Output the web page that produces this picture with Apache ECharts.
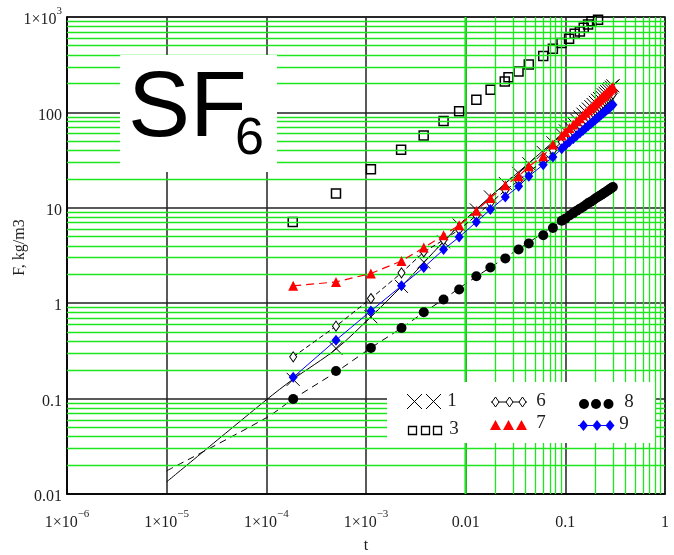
<!DOCTYPE html>
<html><head><meta charset="utf-8">
<script src="https://cdn.jsdelivr.net/npm/echarts@6/dist/echarts.min.js"></script>
<style>html,body{margin:0;padding:0;background:#fff}#c{width:674px;height:555px}</style>
</head><body><div id="c"></div>
<script>
// ---- tick labels ----
const xTickLabels = ['1×10^−6','1×10^−5','1×10^−4','1×10^−3','0.01','0.1','1'];
const yTickLabels = ['0.01','0.1','1','10','100','1×10^3'];
// minor grid multipliers / decades
const minorMult = [2,3,4,5,6,7,8,9];
const xDecades = [1e-6,1e-5,1e-4,1e-3,1e-2,1e-1];
const yDecades = [1e-2,1e-1,1,10,100];

// ---- data: time t ----
const tMain = [1.86e-4,5e-4,1.12e-3,2.27e-3,3.8e-3,6e-3,8.6e-3,1.28e-2,1.77e-2,2.5e-2,3.4e-2,4.3e-2,6e-2,7.5e-2,9.2e-2,
  0.10,0.11,0.12,0.13,0.14,0.15,0.16,0.17,0.18,0.19,0.20,0.21,0.22,0.23,0.24,0.25,0.26,0.27,0.28,0.29,0.30];
// series 1 (crosses)
const F1 = [0.159,0.336,0.72,1.5,2.7,4.4,6.6,9.5,13.0,18.0,23.0,29.0,38.0,48.0,59.0,
  64,70.5,77,83,89.5,96,102,108.5,115,121,127.5,134,140,146.5,153,159,165,171.5,178,184,190];
// series 6 (hollow diamonds)
const F6 = [0.274,0.574,1.12,2.08,3.44,4.6,5.9,8.3,11.2,15.3,19.2,24,30.5,40,49,
  52.4,57.5,62.7,67.9,73.1,78.2,83.3,88.6,93.7,98.9,104,109,114,119.5,124.5,130,135,140,145,150,155];
// series 7 (red triangles)
const F7 = [1.52,1.67,2.05,2.77,3.83,5.15,6.56,9.3,12.7,17.2,21.4,27.2,34.8,46.2,57.4,
  62.4,68.5,74.7,80.8,87.0,93.1,99.2,105.5,111.5,117.7,123.9,129.9,136.1,142.2,148.3,154.5,160.5,166.7,172.8,178.9,185];
// series 8 (black circles)
const F8 = [0.099,0.195,0.34,0.55,0.805,1.094,1.39,1.92,2.37,2.95,3.65,4.22,5.15,6.15,7.3,
  7.7,8.3,8.8,9.3,9.8,10.2,10.7,11.2,11.6,12.0,12.5,12.9,13.3,13.7,14.1,14.5,14.9,15.3,15.7,16.1,16.5];
// series 9 (blue diamonds)
const F9 = [0.167,0.41,0.83,1.52,2.37,3.65,4.94,7.1,9.6,13.0,16.8,21.4,28.3,34.0,41.7,
  45.1,49.1,53.1,57.0,60.9,64.8,68.6,72.4,76.2,79.9,83.6,87.4,91.1,94.8,98.4,102,105.7,109.2,112.9,116.4,120];
// series 3 (hollow squares)
const t3 = [1.84e-4,5e-4,1.12e-3,2.25e-3,3.79e-3,6e-3,8.6e-3,1.28e-2,1.78e-2,2.47e-2,2.69e-2,3.39e-2,4.3e-2,6e-2,7.5e-2,9.16e-2,0.109,0.124,0.14,0.153,0.169,0.183,0.213];
const F3 = [7.1,14.1,25.3,40.7,57.4,81.1,103,136,173,211,234,269,318,389,465,533,592,667,705,771,834,903,935];
// fitted curves
const tFit1 = [1e-5,1e-4,1.86e-4,5e-4,1.12e-3,2.27e-3,1e-2,0.1,0.35];
const FFit1 = [0.0134,0.097,0.16,0.33,0.72,1.5,7.6,64,222];
const tFit8 = [1e-5,1e-4,1.86e-4,5e-4,1.12e-3,2.27e-3,3.8e-3,6e-3,1e-2,3e-2,0.1,0.3];
const FFit8 = [0.0175,0.063,0.099,0.19,0.34,0.55,0.8,1.1,1.6,3.4,7.7,16.5];

const pairs = (xs, ys) => xs.map((x, i) => [x, ys[i]]);
const toRich = s => s.includes('^') ? '{b|' + s.split('^')[0] + '}{s|' + s.split('^')[1] + '}' : '{b|' + s + '}';
const SERIF = '"Liberation Serif","Times New Roman",serif';
const SANS = '"Liberation Sans",Arial,sans-serif';
const LBL = '#1e1e1e';
const GREEN = '#1ee61e';
const rich = {
  b: {fontSize: 16, fontFamily: SERIF, color: LBL, lineHeight: 22, verticalAlign: 'bottom'},
  s: {fontSize: 11, fontFamily: SERIF, color: LBL, lineHeight: 12, verticalAlign: 'top'}
};
const minorX = [], minorY = [];
xDecades.forEach(d => minorMult.forEach(m => minorX.push({xAxis: m * d})));
yDecades.forEach(d => minorMult.forEach(m => minorY.push({yAxis: m * d})));

const crossPath = 'path://M0,0L10,10M10,0L0,10';

// legend decoration helpers
const txt = (x, y, s) => ({type: 'text', z: 101, x: x, y: y, style: {text: s, fontSize: 19, fontFamily: SERIF, fill: LBL, textAlign: 'center', textVerticalAlign: 'middle'}});
const seg = (x1, y1, x2, y2, c, w) => ({type: 'line', z: 101, shape: {x1: x1, y1: y1, x2: x2, y2: y2}, style: {stroke: c, lineWidth: w}});
const poly = (pts, fill, stroke) => ({type: 'polygon', z: 102, shape: {points: pts}, style: {fill: fill, stroke: stroke || null, lineWidth: 1}});
const diamond = (cx, cy, hw, hh) => [[cx, cy - hh], [cx + hw, cy], [cx, cy + hh], [cx - hw, cy]];
const tri = (cx, cy) => [[cx, cy - 5.5], [cx + 5.5, cy + 4.5], [cx - 5.5, cy + 4.5]];

const legendEls = [
  {type: 'rect', z: 100, shape: {x: 387, y: 382, width: 268, height: 61}, style: {fill: '#fff'}},
  seg(407, 394, 422, 409, '#000', 1), seg(422, 394, 407, 409, '#000', 1),
  seg(426, 394, 441, 409, '#000', 1), seg(441, 394, 426, 409, '#000', 1),
  txt(452, 401, '1'),
  {type: 'rect', z: 101, shape: {x: 408.5, y: 426.5, width: 8, height: 8}, style: {fill: '#fff', stroke: '#000', lineWidth: 1.3}},
  {type: 'rect', z: 101, shape: {x: 421.5, y: 426.5, width: 8, height: 8}, style: {fill: '#fff', stroke: '#000', lineWidth: 1.3}},
  {type: 'rect', z: 101, shape: {x: 433.5, y: 426.5, width: 8, height: 8}, style: {fill: '#fff', stroke: '#000', lineWidth: 1.3}},
  txt(454, 429, '3'),
  seg(491, 402, 527, 402, '#000', 1),
  poly(diamond(495.5, 402, 3.5, 5), '#fff', '#000'), poly(diamond(509.5, 402, 3.5, 5), '#fff', '#000'), poly(diamond(522.5, 402, 3.5, 5), '#fff', '#000'),
  txt(541, 401, '6'),
  poly(tri(495.5, 425.5), '#ff0000'), poly(tri(508.5, 425.5), '#ff0000'), poly(tri(521.5, 425.5), '#ff0000'),
  txt(541, 423, '7'),
  {type: 'circle', z: 101, shape: {cx: 584, cy: 404, r: 5}, style: {fill: '#000'}},
  {type: 'circle', z: 101, shape: {cx: 596, cy: 404, r: 5}, style: {fill: '#000'}},
  {type: 'circle', z: 101, shape: {cx: 608.5, cy: 404, r: 5}, style: {fill: '#000'}},
  txt(629, 402, '8'),
  seg(578, 425.5, 614, 425.5, '#0000ff', 1),
  poly(diamond(583.5, 425.5, 4.5, 5.5), '#0000ff'), poly(diamond(597, 425.5, 4.5, 5.5), '#0000ff'), poly(diamond(610, 425.5, 4.5, 5.5), '#0000ff'),
  txt(624, 424, '9')
];

const chart = echarts.init(document.getElementById('c'), null, {renderer: 'canvas'});
chart.setOption({
  animation: false,
  backgroundColor: '#fff',
  grid: {left: 67, right: 9, top: 17, bottom: 61, containLabel: false, outerBoundsMode: 'none',
    show: true, borderColor: '#000', borderWidth: 1.5, backgroundColor: 'transparent'},
  xAxis: {
    type: 'log', logBase: 10, min: 1e-6, max: 1, splitNumber: 6,
    name: 't', nameLocation: 'middle', nameGap: 44, nameMoveOverlap: false,
    nameTextStyle: {fontFamily: SERIF, fontSize: 16, color: LBL},
    axisLine: {show: true, lineStyle: {color: '#000', width: 1.5}},
    axisTick: {show: false},
    splitLine: {show: true, lineStyle: {color: '#222', width: 1.5}},
    axisLabel: {margin: 15, formatter: v => toRich(xTickLabels[Math.round(Math.log10(v)) + 6]), rich: rich, showMinLabel: true, showMaxLabel: true, hideOverlap: false}
  },
  yAxis: {
    type: 'log', logBase: 10, min: 0.01, max: 1000, splitNumber: 5,
    name: 'F, kg/m3', nameLocation: 'middle', nameGap: 39, nameRotate: 90, nameMoveOverlap: false,
    nameTextStyle: {fontFamily: SERIF, fontSize: 16, color: LBL, padding: [0, 0, 0, 16]},
    axisLine: {show: true, lineStyle: {color: '#000', width: 1.5}},
    axisTick: {show: false},
    splitLine: {show: true, lineStyle: {color: '#222', width: 1.5}},
    axisLabel: {margin: 5, formatter: v => toRich(yTickLabels[Math.round(Math.log10(v)) + 2]), rich: rich, hideOverlap: false}
  },
  graphic: [
    {type: 'rect', z: 100, shape: {x: 120, y: 55, width: 157, height: 117}, style: {fill: '#fff'}},
    {type: 'text', z: 101, x: 128, y: 110, style: {text: 'SF', fontSize: 93, fontFamily: SANS, fill: '#000', textAlign: 'left', textVerticalAlign: 'middle'}},
    {type: 'text', z: 101, x: 235, y: 140, style: {text: '6', fontSize: 52, fontFamily: SANS, fill: '#000', textAlign: 'left', textVerticalAlign: 'middle'}}
  ].concat(legendEls),
  series: [
    {type: 'line', name: 'minorgrid', data: [], z: 1, silent: true,
      markLine: {silent: true, symbol: ['none', 'none'], label: {show: false}, animation: false,
        lineStyle: {color: GREEN, type: 'solid', width: 1.3, opacity: 1}, emphasis: {disabled: true},
        data: minorX.concat(minorY)}},
    {type: 'line', name: 'fit1', data: pairs(tFit1, FFit1), showSymbol: false, symbol: 'none', smooth: 0.3, z: 3,
      lineStyle: {color: '#000', width: 1}},
    {type: 'line', name: 'fit8', data: pairs(tFit8, FFit8), showSymbol: false, symbol: 'none', smooth: 0.3, z: 3,
      lineStyle: {color: '#000', width: 1, type: [7, 5]}},
    {type: 'scatter', name: '1', data: pairs(tMain, F1), symbol: crossPath, symbolSize: 13, z: 4,
      itemStyle: {color: 'rgba(0,0,0,0)', borderColor: '#000', borderWidth: 1, opacity: 1}},
    {type: 'scatter', name: '3', data: pairs(t3, F3), symbol: 'rect', symbolSize: 9, z: 4,
      itemStyle: {color: 'rgba(255,255,255,0)', borderColor: '#000', borderWidth: 1.5, opacity: 1}},
    {type: 'line', name: '6', data: pairs(tMain, F6), symbol: 'diamond', symbolSize: [7, 10], showAllSymbol: true, z: 5,
      lineStyle: {color: '#000', width: 1, type: [5, 3]}, itemStyle: {color: '#fff', borderColor: '#000', borderWidth: 1, opacity: 1}},
    {type: 'line', name: '9', data: pairs(tMain, F9), symbol: 'diamond', symbolSize: [9, 11], showAllSymbol: true, z: 6,
      lineStyle: {color: '#0000ff', width: 1}, itemStyle: {color: '#0000ff', borderWidth: 0, opacity: 1}},
    {type: 'scatter', name: '8', data: pairs(tMain, F8), symbol: 'circle', symbolSize: 10, z: 6,
      itemStyle: {color: '#000', opacity: 1}},
    {type: 'line', name: '7', data: pairs(tMain, F7), symbol: 'triangle', symbolSize: 10, showAllSymbol: true, z: 7,
      lineStyle: {color: '#ff0000', width: 1.2, type: [8, 5]}, itemStyle: {color: '#ff0000', borderWidth: 0, opacity: 1}}
  ]
});
</script>
</body></html>
